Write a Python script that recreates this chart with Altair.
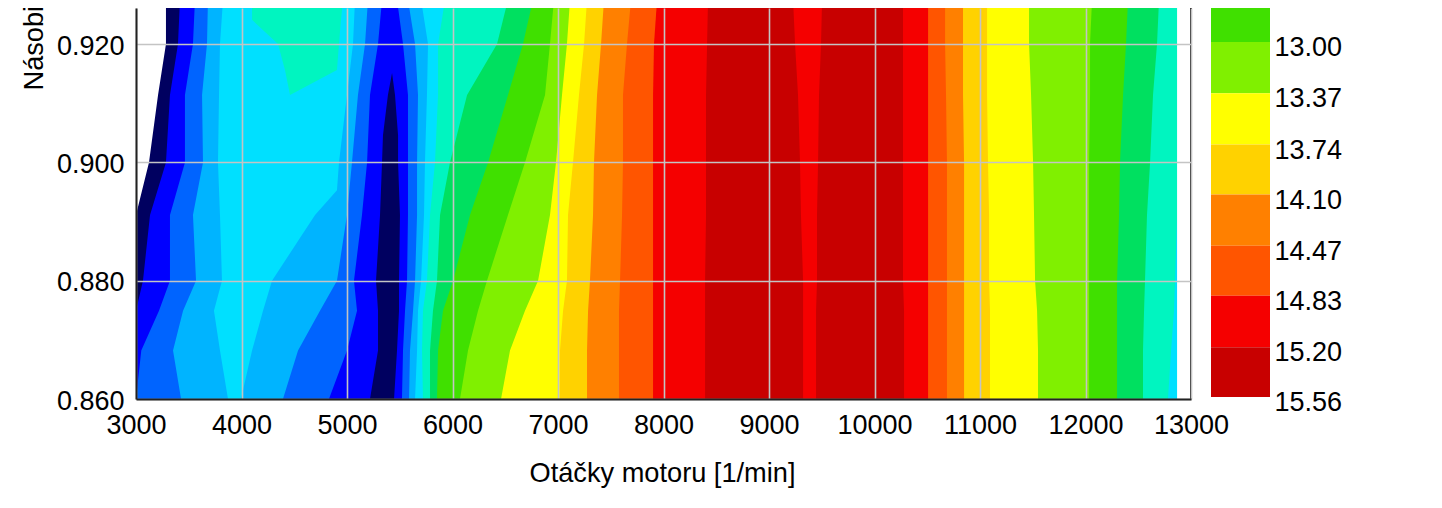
import altair as alt
import pandas as pd

FONT = "Liberation Sans"

# Mixture row values at which the contour edges were read
ROWS = [0.9275, 0.9200, 0.9114, 0.9000, 0.8911, 0.8800, 0.8749, 0.8682, 0.8600]
ROWS_POCKET = [0.9275, 0.9241, 0.9200, 0.9156, 0.9114]
ROWS_TIP = [0.9151, 0.9114, 0.9046, 0.9000, 0.8911, 0.8800, 0.8749, 0.8682, 0.8600]
ROWS_KINK = [0.9275, 0.9200, 0.9114, 0.9000, 0.8953, 0.8911, 0.8800, 0.8749, 0.8682, 0.8600]

NAVY, BLUE, AZURE, SKY, CYAN, TEAL, MINT, GREEN, LIME = (
    "#000060", "#0000FF", "#0064FF", "#00B4FF", "#00E0FF", "#00F5C0", "#00E060", "#40E000", "#80F000")
YELLOW, AMBER, ORANGE, DORANGE, RED, DRED = ("#FFFF00", "#FFD200", "#FF8000", "#FF5500", "#F50000", "#C80000")

# Each edge: colour that starts to the right of it, rows, engine speed on those rows
EDGES = [
    (NAVY, ROWS, [3284, 3284, 3209, 3123, 3000, 3000, 3000, 3000, 3000]),
    (BLUE, ROWS, [3417, 3398, 3322, 3284, 3133, 3066, 3000, 3000, 3000]),
    (AZURE, ROWS, [3559, 3540, 3464, 3464, 3322, 3322, 3218, 3050, 3000]),
    (SKY, ROWS, [3682, 3673, 3626, 3635, 3540, 3569, 3446, 3351, 3427]),
    (CYAN, ROWS, [3825, 3796, 3787, 3777, 3796, 3815, 3739, 3796, 3872]),
    (TEAL, ROWS_POCKET, [4100, 4100, 4346, 4412, 4460]),
    (CYAN, ROWS_POCKET, [4962, 4943, 4924, 4905, 4460]),
    (SKY, ROWS_KINK, [5076, 5057, 5000, 4924, 4905, 4697, 4289, 4204, 4100, 3995]),
    (AZURE, ROWS, [5199, 5171, 5104, 5047, 5000, 4905, 4744, 4536, 4393]),
    (BLUE, ROWS, [5332, 5294, 5218, 5190, 5142, 5066, 5095, 5000, 4829]),
    (NAVY, ROWS_TIP, [5427, 5388, 5341, 5332, 5313, 5275, 5294, 5294, 5218]),
    (BLUE, ROWS_TIP, [5427, 5455, 5484, 5484, 5502, 5493, 5493, 5474, 5446]),
    (AZURE, ROWS, [5474, 5531, 5578, 5578, 5578, 5569, 5550, 5531, 5521]),
    (SKY, ROWS, [5578, 5645, 5673, 5664, 5664, 5645, 5626, 5597, 5588]),
    (CYAN, ROWS, [5702, 5768, 5758, 5739, 5730, 5702, 5673, 5664, 5645]),
    (TEAL, ROWS, [5929, 5863, 5863, 5834, 5787, 5758, 5720, 5711, 5720]),
    (MINT, ROWS, [6526, 6422, 6138, 5976, 5882, 5853, 5815, 5787, 5787]),
    (GREEN, ROWS, [6763, 6668, 6526, 6337, 6166, 6005, 5910, 5863, 5853]),
    (LIME, ROWS, [6962, 6924, 6877, 6687, 6526, 6327, 6242, 6147, 6071]),
    (YELLOW, ROWS, [7114, 7085, 7038, 6981, 6924, 6811, 6687, 6545, 6460]),
    (AMBER, ROWS, [7275, 7247, 7199, 7142, 7095, 7085, 7048, 7019, 7019]),
    (ORANGE, ROWS, [7436, 7408, 7370, 7341, 7332, 7303, 7285, 7275, 7275]),
    (DORANGE, ROWS, [7692, 7654, 7616, 7616, 7607, 7588, 7578, 7578, 7578]),
    (RED, ROWS, [7939, 7910, 7901, 7901, 7901, 7901, 7901, 7901, 7901]),
    (DRED, ROWS, [8422, 8413, 8403, 8403, 8403, 8394, 8394, 8394, 8394]),
    (RED, ROWS, [9228, 9247, 9275, 9294, 9303, 9323, 9323, 9323, 9323]),
    (DRED, ROWS, [9503, 9493, 9474, 9465, 9455, 9455, 9446, 9446, 9446]),
    (RED, ROWS, [10270, 10270, 10270, 10270, 10270, 10270, 10280, 10280, 10280]),
    (DORANGE, ROWS, [10508, 10508, 10508, 10508, 10508, 10508, 10508, 10508, 10508]),
    (ORANGE, ROWS, [10669, 10669, 10678, 10687, 10687, 10687, 10687, 10687, 10687]),
    (AMBER, ROWS, [10839, 10839, 10839, 10849, 10849, 10849, 10849, 10849, 10849]),
    (YELLOW, ROWS, [11067, 11067, 11067, 11076, 11086, 11086, 11095, 11095, 11095]),
    (LIME, ROWS, [11465, 11465, 11484, 11503, 11512, 11522, 11541, 11550, 11550]),
    (GREEN, ROWS, [12062, 12043, 12043, 12034, 12034, 12034, 12034, 12034, 12034]),
    (MINT, ROWS, [12403, 12384, 12356, 12327, 12318, 12299, 12299, 12299, 12299]),
    (TEAL, ROWS, [12697, 12678, 12640, 12612, 12583, 12564, 12555, 12545, 12545]),
    (CYAN, ROWS, [12868, 12868, 12868, 12868, 12868, 12849, 12839, 12811, 12782]),
    ("#FFFFFF", ROWS, [12868, 12868, 12868, 12868, 12868, 12868, 12868, 12868, 12868]),
]

X_TICKS = list(range(3000, 13001, 1000))
Y_TICKS = [0.86, 0.88, 0.90, 0.92]
X_DOMAIN = [3000, 13000]
Y_DOMAIN = [0.86, 0.9261]

LEVELS = [12.64, 13.00, 13.37, 13.74, 14.10, 14.47, 14.83, 15.20, 15.56]
LEVEL_COLORS = [GREEN, LIME, YELLOW, AMBER, ORANGE, DORANGE, RED, DRED]

rows = []
for i, (color, lams, speeds) in enumerate(EDGES):
    for lam, speed in sorted(zip(lams, speeds)):
        rows.append({"band": f"b{i:02d}", "lam": lam, "rpm": speed, "end": 13000})
df = pd.DataFrame(rows)

x_scale = alt.Scale(domain=X_DOMAIN, nice=False, zero=False)
y_scale = alt.Scale(domain=Y_DOMAIN, nice=False, zero=False)

contour = alt.Chart(df).mark_area(orient="horizontal", clip=True, line=False).encode(
    x=alt.X("rpm:Q", scale=x_scale, axis=alt.Axis(
        values=X_TICKS, format="d", title="Otáčky motoru [1/min]", grid=True, gridColor="#C4C4C4",
        gridWidth=1.6, tickSize=0, domainColor="#222222", domainWidth=2, labelFont=FONT, labelFontSize=27,
        labelColor="#000000", labelPadding=13, labelOverlap=False, labelFlush=False, titleFont=FONT,
        titleFontSize=27.2, titleFontWeight="normal", titleColor="#000000", titleX=526, titleY=82,
        titleBaseline="alphabetic", zindex=1)),
    x2="end:Q",
    y=alt.Y("lam:Q", scale=y_scale, axis=alt.Axis(
        values=Y_TICKS, format=".3f", title="Násobič", grid=True, gridColor="#C4C4C4", gridWidth=1.6,
        tickSize=0, domainColor="#222222", domainWidth=2, labelFont=FONT, labelFontSize=27,
        labelColor="#000000", labelPadding=12, labelOffset=2, labelOverlap=False, labelFlush=False,
        titleFont=FONT, titleFontSize=27.2, titleFontWeight="normal", titleColor="#000000",
        titleAngle=270, titleAlign="left", titleBaseline="alphabetic", titleX=-94, titleY=82, zindex=1)),
    color=alt.Color("band:N", legend=None, scale=alt.Scale(
        domain=[f"b{i:02d}" for i in range(len(EDGES))], range=[e[0] for e in EDGES])),
)

border = alt.Chart(pd.DataFrame({"v": [13000]})).mark_rule(color="#222222", strokeWidth=2).encode(
    x=alt.X("v:Q", scale=x_scale, axis=None))

legend_df = pd.DataFrame({
    "lo": LEVELS[:-1], "hi": LEVELS[1:], "color": LEVEL_COLORS,
    "a": [0] * len(LEVEL_COLORS), "b": [1] * len(LEVEL_COLORS)})
legend = alt.Chart(legend_df).mark_rect().encode(
    x=alt.X("a:Q", scale=alt.Scale(domain=[0, 1], range=[1075, 1134]), axis=None),
    x2="b:Q",
    y=alt.Y("lo:Q", scale=alt.Scale(domain=[15.574, 12.755], nice=False, zero=False), axis=alt.Axis(
        orient="right", offset=79, values=LEVELS, format=".2f", title=None, grid=False, domain=False, ticks=False,
        labelFont=FONT, labelFontSize=27, labelColor="#000000", labelPadding=4, labelOffset=5.5,
        labelOverlap=False, labelFlush=False)),
    y2="hi:Q",
    color=alt.Color("color:N", legend=None, scale=None),
)

chart = alt.layer(contour, border, legend).resolve_scale(
    x="independent", y="independent", color="independent"
).properties(
    width=1055, height=391,
    padding={"left": 128, "top": 0, "right": 230, "bottom": 95},
    autosize=alt.AutoSizeParams(type="none"),
).configure_view(stroke=None)

chart.save("out.html", embed_options={"renderer": "svg", "actions": False})
